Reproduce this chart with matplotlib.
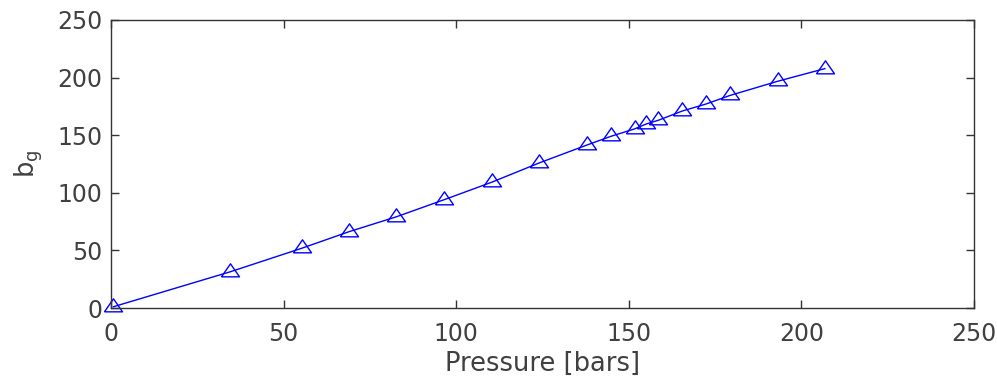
import numpy as np
import matplotlib.pyplot as plt

# pressure in bars and b_g
pressure = [0.7, 34.5, 55.2, 68.9, 82.7, 96.5, 110.3, 124.1, 137.9, 144.8,
            151.7, 155.1, 158.6, 165.5, 172.4, 179.3, 193.1, 206.8]
bg = [1.1, 31.4, 51.8, 66.2, 79.2, 94.0, 109.2, 126.0, 141.5, 149.0,
      155.5, 159.8, 163.0, 171.0, 177.1, 184.5, 196.8, 207.8]

xticks = [0, 50, 100, 150, 200, 250]
yticks = [0, 50, 100, 150, 200, 250]

txt = '#404040'
edge = '#333333'

# wide, flat triangle like matlab's '^'
tri = [(-1.0, -0.48), (1.0, -0.48), (0.0, 0.96), (-1.0, -0.48)]

fig = plt.figure(figsize=(9.97, 3.82), dpi=100)
ax = fig.add_axes([111/997, 74/382, 863/997, 288/382])

ax.plot(pressure, bg, color='#0000ff', linewidth=1.0, marker=tri, markersize=13,
        markerfacecolor='none', markeredgecolor='#0000ff', markeredgewidth=1.0,
        clip_on=False)

ax.set_xlim(0, 250)
ax.set_ylim(0, 250)
ax.set_xticks(xticks)
ax.set_yticks(yticks)
ax.tick_params(direction='in', length=6, width=1.0, color=edge, labelcolor=txt,
               labelsize=17, top=True, right=True)
ax.tick_params(axis='x', pad=10)
ax.tick_params(axis='y', pad=6)
for s in ax.spines.values():
    s.set_color(edge)
    s.set_linewidth(1.0)

ax.set_xlabel('Pressure [bars]', fontsize=18.5, color=txt, labelpad=4)
ax.set_ylabel('b$_\\mathregular{g}$', fontsize=18.5, color=txt, labelpad=9)

fig.savefig('out.png', dpi=100)
